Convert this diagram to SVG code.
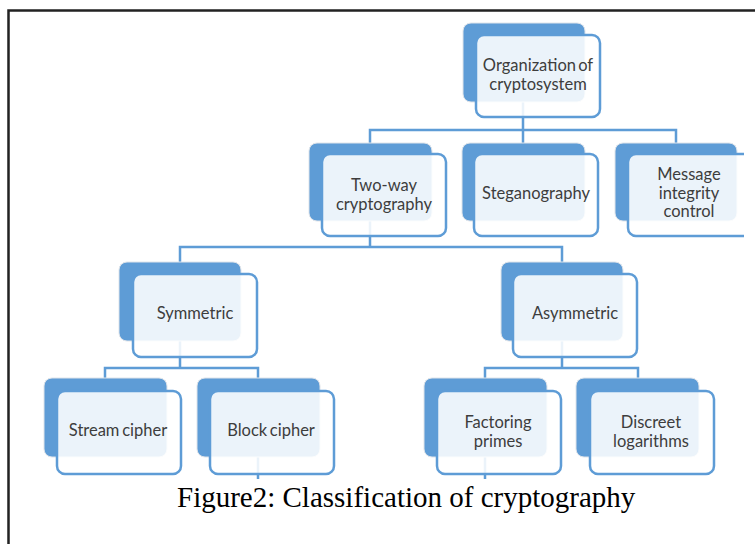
<svg xmlns="http://www.w3.org/2000/svg" width="755" height="544" viewBox="0 0 755 544">
<style>
.bk{fill:#5e9cd6;stroke:#dfe4ea;stroke-width:1}
.fr{fill:#ffffff;fill-opacity:0.88;stroke:#5e9cd6;stroke-width:2.5}
.cn{fill:none;stroke:#5e9cd6;stroke-width:2.5}
.t{font-family:Lato,"Open Sans","Liberation Sans",sans-serif;font-size:16.5px;fill:#3d3d3d;text-anchor:middle}
.cap{font-family:"Liberation Serif","Times New Roman",serif;font-size:29px;fill:#000}
</style>
<defs>
<clipPath id="clipR"><rect x="0" y="0" width="744" height="544"/></clipPath>
</defs>
<rect x="0" y="0" width="755" height="544" fill="#fff"/>
<path d="M8.5,544 V10.5 H755" fill="none" stroke="#222" stroke-width="2.5"/>
<g id="connectors">
<path class="cn" d="M523,102 V130 M370,143 V130 H676 V143 M523,130 V143"/>
<path class="cn" d="M370,221 V247 M180,262 V247 H562 V262"/>
<path class="cn" d="M180,341 V368 M105,378 V368 H258 V378"/>
<path class="cn" d="M562,341 V368 M485,378 V368 H638 V378"/>
<path class="cn" d="M258,457 V479 M485,457 V479"/>
</g>
<g id="root">
<rect class="bk" x="463" y="23" width="122" height="79" rx="8"/>
<rect class="fr" x="476" y="35" width="124" height="82" rx="8"/>
<text class="t" x="538" y="71" word-spacing="-2">Organization of</text>
<text class="t" x="538" y="90">cryptosystem</text>
</g>
<g id="two-way">
<rect class="bk" x="309" y="143" width="123" height="78" rx="8"/>
<rect class="fr" x="322" y="154" width="124" height="82" rx="8"/>
<text class="t" x="384" y="191">Two-way</text>
<text class="t" x="384" y="210">cryptography</text>
</g>
<g id="steganography">
<rect class="bk" x="462" y="143" width="123" height="78" rx="8"/>
<rect class="fr" x="474" y="154" width="124" height="82" rx="8"/>
<text class="t" x="536" y="199">Steganography</text>
</g>
<g id="message">
<rect class="bk" x="615" y="143" width="122" height="78" rx="8"/>
<rect class="fr" x="628" y="154" width="124" height="82" rx="8" clip-path="url(#clipR)"/>
<text class="t" x="689" y="180">Message</text>
<text class="t" x="689" y="198.5">integrity</text>
<text class="t" x="689" y="217">control</text>
</g>
<g id="symmetric">
<rect class="bk" x="119" y="262" width="122" height="79" rx="8"/>
<rect class="fr" x="133" y="274" width="124" height="83" rx="8"/>
<text class="t" x="195" y="319">Symmetric</text>
</g>
<g id="asymmetric">
<rect class="bk" x="501" y="262" width="122" height="79" rx="8"/>
<rect class="fr" x="513" y="274" width="124" height="83" rx="8"/>
<text class="t" x="575" y="319">Asymmetric</text>
</g>
<g id="stream">
<rect class="bk" x="44" y="378" width="123" height="79" rx="8"/>
<rect class="fr" x="57" y="391" width="124" height="83" rx="8"/>
<text class="t" x="118" y="436" word-spacing="-1.5">Stream cipher</text>
</g>
<g id="block">
<rect class="bk" x="197" y="378" width="123" height="79" rx="8"/>
<rect class="fr" x="210" y="391" width="124" height="83" rx="8"/>
<text class="t" x="271" y="436" word-spacing="-1.5">Block cipher</text>
</g>
<g id="factoring">
<rect class="bk" x="424" y="378" width="123" height="79" rx="8"/>
<rect class="fr" x="437" y="391" width="124" height="83" rx="8"/>
<text class="t" x="498" y="428">Factoring</text>
<text class="t" x="498" y="447">primes</text>
</g>
<g id="discreet">
<rect class="bk" x="576" y="378" width="123" height="79" rx="8"/>
<rect class="fr" x="590" y="391" width="124" height="83" rx="8"/>
<text class="t" x="651" y="428">Discreet</text>
<text class="t" x="651" y="447">logarithms</text>
</g>
<text class="cap" x="177" y="507">Figure2: Classification of cryptography</text>
</svg>
